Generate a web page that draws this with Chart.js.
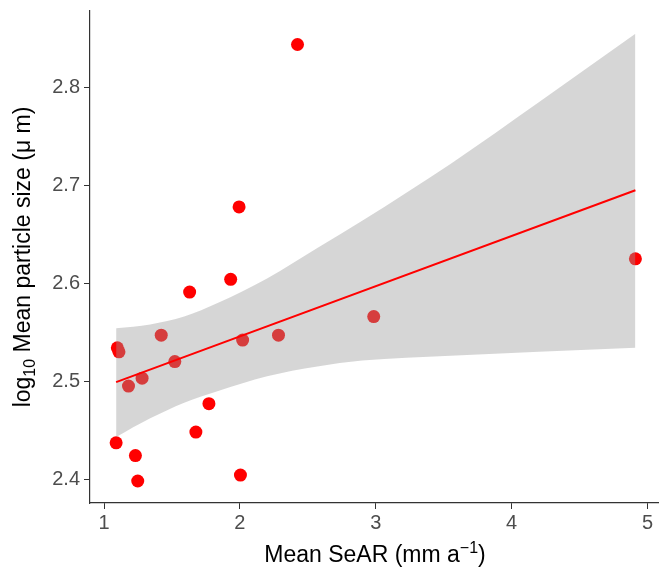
<!DOCTYPE html>
<html>
<head>
<meta charset="utf-8">
<script src="https://cdn.jsdelivr.net/npm/chart.js@4.4.1/dist/chart.umd.min.js"></script>
<style>
  html, body { margin: 0; padding: 0; background: #fff; overflow: hidden; }
  /* a little wider than the window: Chart.js keeps ~5px for the last x label */
  #wrap { width: 665px; height: 572px; position: relative; }
</style>
</head>
<body>
<div id="wrap"><canvas id="plot"></canvas></div>
<script>
// observed points (Mean SeAR, log10 mean particle size)
const searX = [2.424, 1.994, 1.932, 1.630, 1.421, 2.020, 2.284, 2.985, 1.098, 1.110,
               1.521, 1.280, 1.180, 1.772, 1.676, 1.089, 1.231, 1.248, 2.004, 4.911];
const sizeY = [2.844, 2.678, 2.604, 2.591, 2.547, 2.542, 2.547, 2.566, 2.534, 2.530,
               2.520, 2.503, 2.495, 2.477, 2.448, 2.437, 2.424, 2.398, 2.404, 2.625];

// fitted line
const fitX = [1.089, 4.911];
const fitY = [2.499, 2.695];

// confidence band
const bandX     = [1.089, 1.34, 1.59, 1.84, 2.2, 2.57, 2.9, 3.55, 4.2, 4.911];
const bandUpper = [2.554, 2.558, 2.566, 2.580, 2.605, 2.636, 2.664, 2.722, 2.785, 2.855];
const bandLower = [2.443, 2.462, 2.478, 2.490, 2.505, 2.515, 2.521, 2.526, 2.530, 2.534];

const xTicks = [1, 2, 3, 4, 5];
const yTicks = [2.4, 2.5, 2.6, 2.7, 2.8];

const FONT = "'Liberation Sans', Arial, sans-serif";
const zip = (xs, ys) => xs.map((x, i) => ({ x, y: ys[i] }));

/* draw text made of normal / sub / superscript parts */
function drawRich(ctx, parts, cx, cy, rot) {
  ctx.save();
  ctx.translate(cx, cy);
  ctx.rotate(rot);
  ctx.fillStyle = "#000";
  ctx.textBaseline = "alphabetic";
  ctx.textAlign = "left";
  let w = 0;
  parts.forEach(p => {
    ctx.font = `${p.size}px ${FONT}`;
    p.w = ctx.measureText(p.t).width;
    w += p.w;
  });
  let x = -w / 2;
  parts.forEach(p => {
    ctx.font = `${p.size}px ${FONT}`;
    ctx.fillText(p.t, x, p.dy);
    x += p.w;
  });
  ctx.restore();
}

const axisTitles = {
  id: "axisTitles",
  afterDraw(chart) {
    const ctx = chart.ctx;
    drawRich(ctx, [
      { t: "Mean SeAR (mm a", size: 23, dy: 0 },
      { t: "\u22121", size: 16, dy: -9 },
      { t: ")", size: 23, dy: 0 }
    ], 375, 562, 0);
    drawRich(ctx, [
      { t: "log", size: 23, dy: 0 },
      { t: "10", size: 16, dy: 5 },
      { t: " Mean particle size (\u03bc m)", size: 23, dy: 0 }
    ], 30, 257, -Math.PI / 2);
  }
};

const tickStyle = { color: "#4d4d4d", font: { family: FONT, size: 20 } };
const noPad = s => { s.paddingLeft = 0; s.paddingRight = 0; s.paddingTop = 0; s.paddingBottom = 0; };

new Chart(document.getElementById("plot"), {
  type: "scatter",
  data: {
    datasets: [
      {
        type: "line",
        data: zip(fitX, fitY),
        borderColor: "#ff0000",
        borderWidth: 2,
        pointRadius: 0,
        fill: false
      },
      {
        type: "line",
        data: zip(bandX, bandUpper),
        borderWidth: 0,
        borderColor: "rgba(0,0,0,0)",
        backgroundColor: "rgba(153,153,153,0.4)",
        pointRadius: 0,
        cubicInterpolationMode: "monotone",
        fill: "+1"
      },
      {
        type: "line",
        data: zip(bandX, bandLower),
        borderWidth: 0,
        borderColor: "rgba(0,0,0,0)",
        pointRadius: 0,
        cubicInterpolationMode: "monotone",
        fill: false
      },
      {
        data: zip(searX, sizeY),
        backgroundColor: "#ff0000",
        borderWidth: 0,
        pointRadius: 6.5
      }
    ]
  },
  options: {
    responsive: true,
    maintainAspectRatio: false,
    animation: false,
    layout: { padding: { left: 0, right: 2.5, top: 11, bottom: 0 } },
    plugins: {
      legend: { display: false },
      tooltip: { enabled: false }
    },
    scales: {
      x: {
        type: "linear",
        min: 0.8967,
        max: 5.081,
        afterBuildTicks: s => { s.ticks = xTicks.map(v => ({ value: v })); },
        afterFit: s => { s.height = 69; noPad(s); },
        border: { display: true, color: "#333", width: 1.2 },
        grid: { drawOnChartArea: false, drawTicks: true, tickLength: 6, color: "#333" },
        ticks: { ...tickStyle, padding: 2, maxRotation: 0 }
      },
      y: {
        type: "linear",
        min: 2.3755,
        max: 2.8782,
        afterBuildTicks: s => { s.ticks = yTicks.map(v => ({ value: v })); },
        afterFit: s => { s.width = 90; noPad(s); },
        border: { display: true, color: "#333", width: 1.2 },
        grid: { drawOnChartArea: false, drawTicks: true, tickLength: 6, color: "#333" },
        ticks: { ...tickStyle, padding: 4, callback: v => v.toFixed(1) }
      }
    }
  },
  plugins: [axisTitles]
});
</script>
</body>
</html>
